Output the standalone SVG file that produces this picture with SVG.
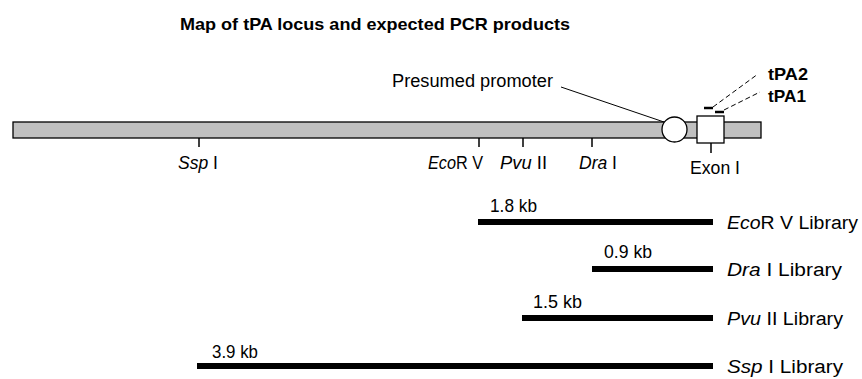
<svg xmlns="http://www.w3.org/2000/svg" width="862" height="379" viewBox="0 0 862 379">
<style>
text{font-family:"Liberation Sans",Arial,sans-serif;font-size:18px;fill:#000}
.b{font-weight:bold}
.t{font-size:17px}
.i{font-style:italic}
.tick{stroke:#000;stroke-width:1.5;fill:none}
.prod{stroke:#000;stroke-width:6;fill:none}
.dash{stroke:#000;stroke-width:1;stroke-dasharray:5 3;fill:none}
</style>
<rect width="862" height="379" fill="#fff"/>
<text id="title" class="b t" x="180" y="30" textLength="390" lengthAdjust="spacingAndGlyphs">Map of tPA locus and expected PCR products</text>
<g id="locus">
<rect x="13" y="122" width="748" height="16" fill="#c0c0c0" stroke="#000" stroke-width="1.3"/>
</g>
<g id="promoter">
<circle cx="674.5" cy="129.5" r="12.5" fill="#fff" stroke="#000" stroke-width="1.3"/>
<text x="392" y="87" textLength="161" lengthAdjust="spacingAndGlyphs">Presumed promoter</text>
</g>
<g id="exon">
<rect x="697" y="116" width="27" height="27" fill="#fff" stroke="#000" stroke-width="1.3"/>
<line class="tick" x1="711" y1="143" x2="711" y2="153"/>
<text x="690" y="174" textLength="50" lengthAdjust="spacingAndGlyphs">Exon I</text>
</g>
<g id="tPA2">
<line x1="704" y1="108" x2="713" y2="108" stroke="#000" stroke-width="2.5"/>
<text class="b t" x="768" y="80" textLength="40" lengthAdjust="spacingAndGlyphs">tPA2</text>
</g>
<g id="tPA1">
<line x1="715" y1="112" x2="724" y2="112" stroke="#000" stroke-width="2.5"/>
<text class="b t" x="768" y="102" textLength="38" lengthAdjust="spacingAndGlyphs">tPA1</text>
</g>
<g id="sites">
<line class="tick" x1="199" y1="138" x2="199" y2="147"/>
<text x="178" y="169" textLength="40" lengthAdjust="spacingAndGlyphs"><tspan class="i">Ssp</tspan> I</text>
<line class="tick" x1="479" y1="138" x2="479" y2="147"/>
<text x="428" y="169" textLength="55" lengthAdjust="spacingAndGlyphs"><tspan class="i">Eco</tspan>R V</text>
<line class="tick" x1="523" y1="138" x2="523" y2="147"/>
<text x="500" y="169" textLength="47" lengthAdjust="spacingAndGlyphs"><tspan class="i">Pvu</tspan> II</text>
<line class="tick" x1="592" y1="138" x2="592" y2="147"/>
<text x="579" y="169" textLength="38" lengthAdjust="spacingAndGlyphs"><tspan class="i">Dra</tspan> I</text>
</g>
<g id="connectors">
<line x1="561" y1="87" x2="664" y2="122" stroke="#000" stroke-width="1"/>
<line class="dash" x1="713" y1="107" x2="758" y2="74"/>
<line class="dash" x1="724" y1="110" x2="760" y2="92"/>
</g>
<g id="ecorv-product">
<line class="prod" x1="478" y1="222" x2="713" y2="222"/>
<text x="490" y="212" textLength="47" lengthAdjust="spacingAndGlyphs">1.8 kb</text>
<text x="727" y="229" textLength="131" lengthAdjust="spacingAndGlyphs"><tspan class="i">Eco</tspan>R V Library</text>
</g>
<g id="dra-product">
<line class="prod" x1="592" y1="269" x2="713" y2="269"/>
<text x="604" y="258" textLength="48" lengthAdjust="spacingAndGlyphs">0.9 kb</text>
<text x="727" y="276" textLength="115" lengthAdjust="spacingAndGlyphs"><tspan class="i">Dra</tspan> I Library</text>
</g>
<g id="pvu-product">
<line class="prod" x1="522" y1="318" x2="713" y2="318"/>
<text x="533" y="308" textLength="49" lengthAdjust="spacingAndGlyphs">1.5 kb</text>
<text x="727" y="325" textLength="116" lengthAdjust="spacingAndGlyphs"><tspan class="i">Pvu</tspan> II Library</text>
</g>
<g id="ssp-product">
<line class="prod" x1="197" y1="366" x2="713" y2="366"/>
<text x="212" y="358" textLength="46" lengthAdjust="spacingAndGlyphs">3.9 kb</text>
<text x="727" y="373" textLength="116" lengthAdjust="spacingAndGlyphs"><tspan class="i">Ssp</tspan> I Library</text>
</g>
</svg>
